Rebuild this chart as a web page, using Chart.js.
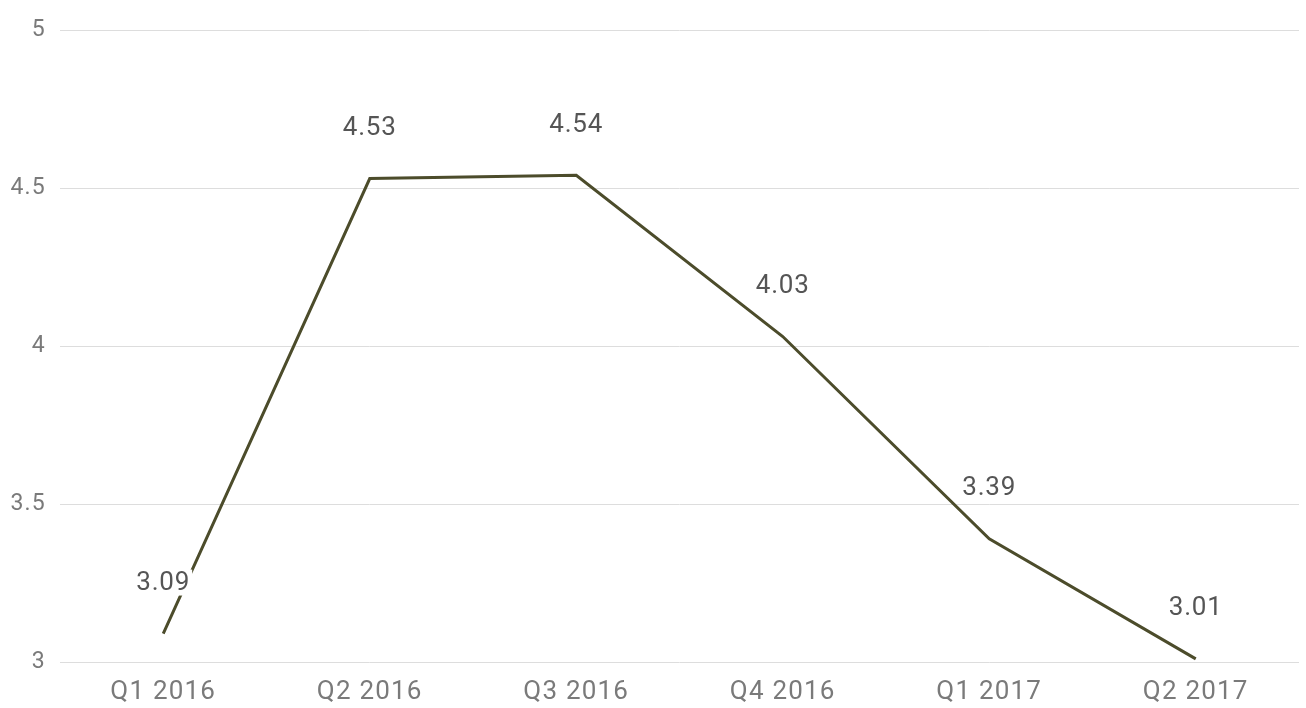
<!DOCTYPE html>
<html>
<head>
<meta charset="utf-8">
<script src="https://cdn.jsdelivr.net/npm/chart.js@4/dist/chart.umd.min.js"></script>
<style>
  html, body { margin: 0; padding: 0; background: #ffffff; }
  #wrap { position: relative; width: 1306px; height: 708px; }
</style>
</head>
<body>
<div id="wrap"><canvas id="c" width="1306" height="708"></canvas></div>
<script>
// Quarterly values
const quarters = ['Q1 2016', 'Q2 2016', 'Q3 2016', 'Q4 2016', 'Q1 2017', 'Q2 2017'];
const values = [3.09, 4.53, 4.54, 4.03, 3.39, 3.01];
const yTicks = [3, 3.5, 4, 4.5, 5];

const FONT = 'Roboto, "Noto Sans", sans-serif';

// Slightly wider letter spacing for all canvas text
const spacing = {
  id: 'spacing',
  beforeDraw(chart) { chart.ctx.letterSpacing = '1.2px'; }
};

// Draws each point's value above it on a white box
const valueLabels = {
  id: 'valueLabels',
  afterDatasetsDraw(chart) {
    const ctx = chart.ctx;
    const meta = chart.getDatasetMeta(0);
    ctx.save();
    ctx.letterSpacing = '0.8px';
    ctx.font = '26px ' + FONT;
    ctx.textAlign = 'center';
    ctx.textBaseline = 'middle';
    meta.data.forEach((pt, i) => {
      const txt = String(values[i]);
      const w = ctx.measureText(txt).width;
      const x = pt.x, y = pt.y - 51;
      ctx.fillStyle = '#ffffff';
      ctx.fillRect(x - w / 2 - 2, y - 13, w + 4, 26);
      ctx.fillStyle = '#555555';
      ctx.fillText(txt, x, y + 1);
    });
    ctx.restore();
  }
};

new Chart(document.getElementById('c'), {
  type: 'line',
  data: {
    labels: quarters,
    datasets: [{
      data: values,
      borderColor: '#4c4c2b',
      borderWidth: 3,
      pointRadius: 0,
      tension: 0,
      fill: false
    }]
  },
  options: {
    responsive: false,
    animation: false,
    layout: { padding: { top: 30, right: 7, left: 0, bottom: 0 } },
    plugins: { legend: { display: false }, tooltip: { enabled: false } },
    scales: {
      x: {
        offset: true,
        grid: { display: false, drawTicks: false },
        border: { display: false },
        ticks: { color: '#7a7a7a', font: { family: FONT, size: 26 }, padding: 15, maxRotation: 0, autoSkip: false },
        afterFit(s) { s.height = 46; }
      },
      y: {
        min: 3, max: 5,
        afterBuildTicks(s) { s.ticks = yTicks.map(v => ({ value: v })); },
        grid: { color: '#dddddd', lineWidth: 1, drawTicks: false },
        border: { display: false },
        ticks: { color: '#7a7a7a', font: { family: FONT, size: 23 }, padding: 14, callback: v => String(v) },
        afterFit(s) { s.width = 60; }
      }
    }
  },
  plugins: [spacing, valueLabels]
});
</script>
</body>
</html>
